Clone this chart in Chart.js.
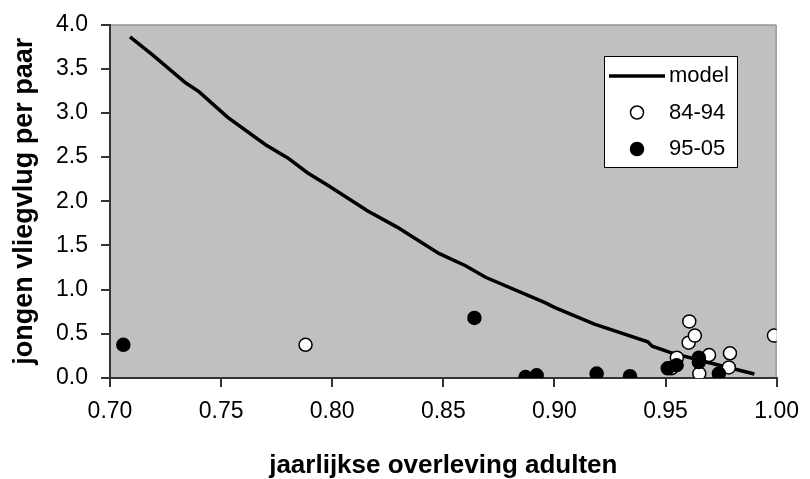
<!DOCTYPE html>
<html>
<head>
<meta charset="utf-8">
<script src="https://cdn.jsdelivr.net/npm/chart.js@4/dist/chart.umd.min.js"></script>
<style>
  body { margin: 0; background: #fff; }
</style>
</head>
<body>
<canvas id="survivalChart" width="810" height="479"></canvas>
<script>
// model curve
var modelX = [0.709, 0.719, 0.734, 0.740, 0.753, 0.770, 0.780, 0.789, 0.798, 0.816, 0.829, 0.848, 0.860, 0.869, 0.896, 0.900, 0.918, 0.942, 0.944, 0.952, 0.967, 0.990];
var modelY = [3.86, 3.66, 3.34, 3.24, 2.95, 2.64, 2.49, 2.32, 2.18, 1.89, 1.71, 1.41, 1.27, 1.14, 0.85, 0.80, 0.61, 0.41, 0.36, 0.29, 0.19, 0.045];

// 84-94 (open circles)
var oldX = [0.788, 0.9526, 0.9551, 0.9604, 0.9607, 0.9632, 0.9652, 0.9696, 0.9785, 0.979, 0.9988];
var oldY = [0.376, 0.11, 0.23, 0.40, 0.64, 0.48, 0.05, 0.26, 0.12, 0.28, 0.48];

// 95-05 (filled circles)
var newX = [0.706, 0.864, 0.887, 0.892, 0.919, 0.934, 0.951, 0.955, 0.965, 0.965, 0.974];
var newY = [0.376, 0.68, 0.01, 0.03, 0.05, 0.02, 0.11, 0.145, 0.23, 0.18, 0.05];

var xTicks = [0.7, 0.75, 0.8, 0.85, 0.9, 0.95, 1.0];
var yTicks = [0, 0.5, 1, 1.5, 2, 2.5, 3, 3.5, 4];

function pairs(xs, ys) {
    return xs.map(function (x, i) { return { x: x, y: ys[i] }; });
}

var plotBackground = {
    id: "plotBackground",
    beforeDraw: function (chart) {
        var a = chart.chartArea, ctx = chart.ctx;
        ctx.save();
        ctx.fillStyle = "#c0c0c0";
        ctx.fillRect(a.left, a.top, a.right - a.left, a.bottom - a.top);
        ctx.strokeStyle = "#808080";
        ctx.lineWidth = 1;
        ctx.beginPath();
        ctx.moveTo(a.left, a.top + 0.5);
        ctx.lineTo(a.right - 0.5, a.top + 0.5);
        ctx.lineTo(a.right - 0.5, a.bottom);
        ctx.stroke();
        ctx.restore();
    }
};

// legend box inside the plot, like the original
var boxLegend = {
    id: "boxLegend",
    afterDraw: function (chart) {
        var ctx = chart.ctx;
        var left = 604, top = 56, right = 737, bottom = 167;
        var keyX = 637, textX = 669, rowH = 36.5, firstRow = 76;
        ctx.save();
        ctx.fillStyle = "#fff";
        ctx.fillRect(left, top, right - left, bottom - top);
        ctx.strokeStyle = "#000";
        ctx.lineWidth = 1;
        ctx.strokeRect(left + 0.5, top + 0.5, right - left, bottom - top);
        ctx.font = "22px 'Liberation Sans', Arial, sans-serif";
        ctx.textBaseline = "middle";
        chart.data.datasets.forEach(function (ds, i) {
            var y = firstRow + i * rowH;
            if (ds.showLine) {
                ctx.strokeStyle = "#000";
                ctx.lineWidth = 3.5;
                ctx.beginPath();
                ctx.moveTo(keyX - 28, y);
                ctx.lineTo(keyX + 28, y);
                ctx.stroke();
            } else {
                ctx.beginPath();
                ctx.arc(keyX, y, 6.5, 0, Math.PI * 2);
                ctx.fillStyle = ds.backgroundColor;
                ctx.fill();
                ctx.lineWidth = 1.5;
                ctx.strokeStyle = "#000";
                ctx.stroke();
            }
            ctx.fillStyle = "#000";
            ctx.fillText(ds.label, textX, y);
        });
        ctx.restore();
    }
};

new Chart("survivalChart", {
    type: "scatter",
    data: {
        datasets: [{
            label: "model",
            type: "line",
            data: pairs(modelX, modelY),
            showLine: true,
            borderColor: "#000",
            borderWidth: 3.5,
            pointRadius: 0,
            tension: 0,
            fill: false,
            order: 2
        }, {
            label: "84-94",
            data: pairs(oldX, oldY),
            backgroundColor: "#fff",
            borderColor: "#000",
            borderWidth: 1.5,
            pointRadius: 6.5,
            order: 1
        }, {
            label: "95-05",
            data: pairs(newX, newY),
            backgroundColor: "#000",
            borderColor: "#000",
            borderWidth: 1.5,
            pointRadius: 6.5,
            order: 0
        }]
    },
    options: {
        responsive: false,
        animation: false,
        layout: {
            padding: { top: 20, right: 27, bottom: 0, left: 0 }
        },
        plugins: {
            legend: { display: false },
            tooltip: { enabled: false }
        },
        scales: {
            x: {
                type: "linear",
                min: 0.7,
                max: 1.0,
                afterFit: function (scale) { scale.height = 101; },
                afterBuildTicks: function (scale) {
                    scale.ticks = xTicks.map(function (v) { return { value: v }; });
                },
                ticks: {
                    padding: 11,
                    color: "#000",
                    font: { family: "'Liberation Sans', Arial, sans-serif", size: 23 },
                    callback: function (v) { return Number(v).toFixed(2); }
                },
                grid: {
                    drawOnChartArea: false,
                    drawTicks: true,
                    tickLength: 9,
                    color: "#333",
                    lineWidth: 2
                },
                border: { display: true, color: "#333", width: 2 },
                title: {
                    display: true,
                    text: "jaarlijkse overleving adulten",
                    color: "#000",
                    padding: { top: 0, bottom: 0 },
                    font: { family: "'Liberation Sans', Arial, sans-serif", size: 26, weight: "bold", lineHeight: 1 }
                }
            },
            y: {
                min: 0,
                max: 4,
                afterFit: function (scale) { scale.width = 110; },
                afterBuildTicks: function (scale) {
                    scale.ticks = yTicks.map(function (v) { return { value: v }; });
                },
                ticks: {
                    padding: 13,
                    color: "#000",
                    font: { family: "'Liberation Sans', Arial, sans-serif", size: 23, lineHeight: 1 },
                    callback: function (v) { return Number(v).toFixed(1); }
                },
                grid: {
                    drawOnChartArea: false,
                    drawTicks: true,
                    tickLength: 9,
                    color: "#333",
                    lineWidth: 2
                },
                border: { display: true, color: "#333", width: 2 },
                title: {
                    display: true,
                    text: "jongen vliegvlug per paar",
                    color: "#000",
                    padding: { top: 11, bottom: 0 },
                    font: { family: "'Liberation Sans', Arial, sans-serif", size: 27, weight: "bold", lineHeight: 1 }
                }
            }
        }
    },
    plugins: [plotBackground, boxLegend]
});
</script>
</body>
</html>
